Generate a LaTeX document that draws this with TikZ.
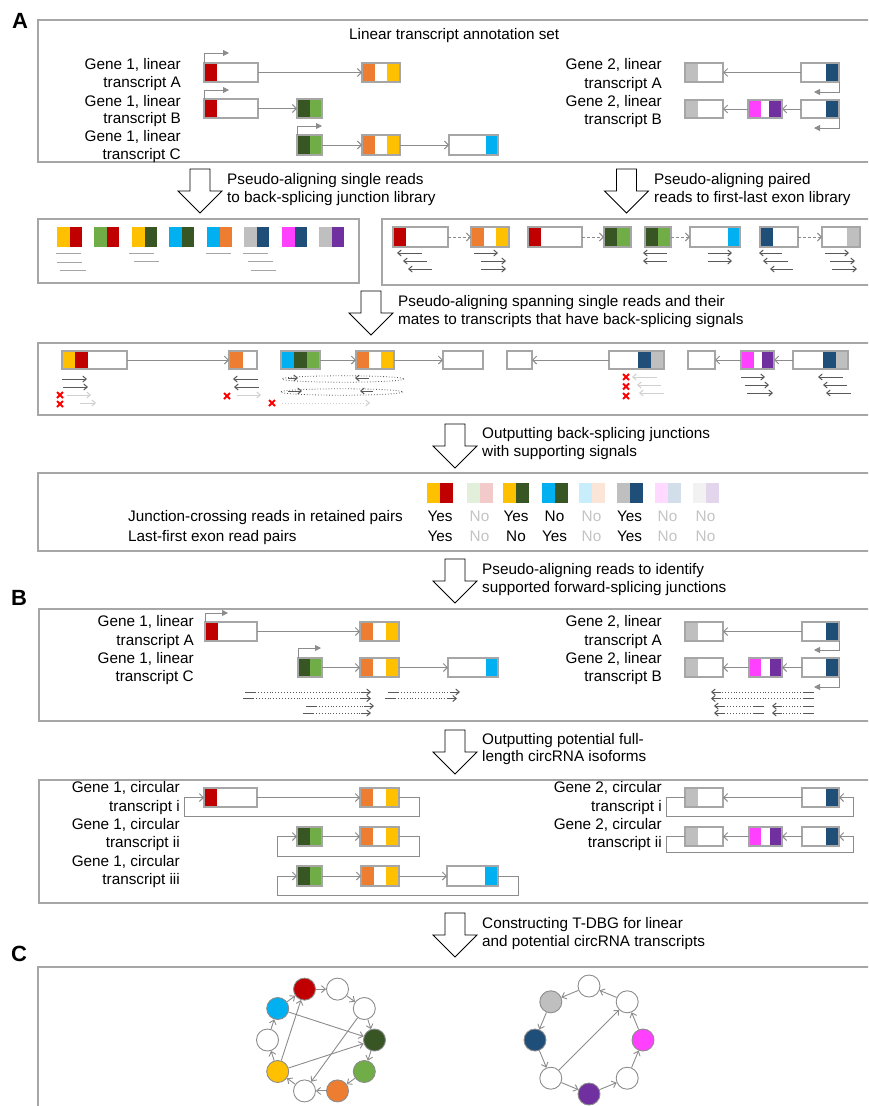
\documentclass[tikz,border=0pt]{standalone}
\usepackage{fontspec}
\setmainfont{Liberation Sans}
\usetikzlibrary{arrows.meta}
\definecolor{cRed}{HTML}{C00000}
\definecolor{cOr}{HTML}{ED7D31}
\definecolor{cYe}{HTML}{FFC000}
\definecolor{cDG}{HTML}{375623}
\definecolor{cLG}{HTML}{70AD47}
\definecolor{cCy}{HTML}{00B0F0}
\definecolor{cGr}{HTML}{BFBFBF}
\definecolor{cNv}{HTML}{1F4E79}
\definecolor{cMg}{HTML}{FF40FF}
\definecolor{cPu}{HTML}{7030A0}
\definecolor{pLG}{HTML}{E2EFDA}
\definecolor{pRd}{HTML}{F2CACA}
\definecolor{pCy}{HTML}{C9EEFB}
\definecolor{pOr}{HTML}{FBE5D6}
\definecolor{pMg}{HTML}{FFD9FF}
\definecolor{pNv}{HTML}{D2DEEA}
\definecolor{pGr}{HTML}{F2F2F2}
\definecolor{pPu}{HTML}{E2D5EC}
\definecolor{frameg}{HTML}{A6A6A6}
\definecolor{exg}{HTML}{A6A6A6}
\definecolor{conng}{HTML}{8C8C8C}
\definecolor{readg}{HTML}{595959}
\definecolor{lreadg}{HTML}{D0D0D0}
\definecolor{fadeg}{HTML}{C4C4C4}
\newcommand\lf{\fontsize{15.3}{18}\selectfont}
\newcommand\FL[5]{\fill[#1] (#2,#4) rectangle (#3,#5);}
\newcommand\EX[5]{\node[exon,anchor=north west,minimum width={#3-#2},minimum height={#5-#4}] (#1) at (#2,#4) {};}
\newcommand\BIGARR[2]{\draw[big] (#1-10,#2) -- (#1+10,#2) -- (#1+10,#2+22) -- (#1+22,#2+22) -- (#1,#2+44) -- (#1-22,#2+22) -- (#1-10,#2+22) -- cycle;}
\newcommand\JP[4]{\fill[#3] (#1,#2) rectangle (#1+12.5,#2+20); \fill[#4] (#1+12.5,#2) rectangle (#1+25,#2+20);}
\newcommand\TP[4]{\fill[#3] (#1,#2) rectangle (#1+13,#2+20); \fill[#4] (#1+13,#2) rectangle (#1+26,#2+20);}
\newcommand\RD[3]{\draw[read] (#1,#3) -- (#2,#3);}
\newcommand\LRD[3]{\draw[lread] (#1,#3) -- (#2,#3);}
\newcommand\XM[2]{\draw[red,line width=1.8pt] (#1-3,#2-3) -- (#1+3,#2+3) (#1-3,#2+3) -- (#1+3,#2-3);}
\newcommand\SR[3]{\pgfmathsetmacro\sA{#1+10*sign(#2-#1)}\pgfmathsetmacro\sB{#2-10*sign(#2-#1)}%
  \draw[readg,line width=0.9pt] (#1,#3) -- (\sA,#3);
  \draw[readg,line width=0.9pt,dotted] (\sA,#3) -- (\sB,#3);
  \draw[read] (\sB,#3) -- (#2,#3);}
\tikzset{
  frame/.style={draw=frameg,line width=1.3pt},
  exon/.style={draw=exg,line width=1.1pt,inner sep=0,outer sep=0,rectangle},
  conn/.style={draw=conng,line width=0.9pt,-{Straight Barb[length=4pt,width=8pt]}},
  dconn/.style={conn,dash pattern=on 3pt off 2pt},
  read/.style={draw=readg,line width=1pt,-{Straight Barb[length=3.5pt,width=6pt]}},
  lread/.style={read,draw=lreadg},
  prom/.style={draw=conng,line width=0.9pt,-{Triangle[length=6pt,width=6pt]}},
  lbl/.style={inner sep=0,anchor=base east,font=\lf},
  txt/.style={inner sep=0,anchor=base west,font=\lf},
  yn/.style={inner sep=0,anchor=base,font=\lf},
  fyn/.style={yn,text=fadeg},
  big/.style={draw=black,fill=white,line width=0.9pt},
  panel/.style={inner sep=0,anchor=base west,font=\fontsize{22}{24}\selectfont\bfseries},
  gnode/.style={circle,draw=conng,line width=0.9pt,minimum size=22pt,inner sep=0},
  gedge/.style={draw=conng,line width=0.9pt,-{Straight Barb[length=4pt,width=7pt]}}
}
\begin{document}
\begin{tikzpicture}[x=1pt,y=-1pt]
\useasboundingbox (0,0) rectangle (868,1106);
\clip (0,0) rectangle (868,1106);
\fill[white] (0,0) rectangle (868,1106);
% ================= Panel A =================
\node[panel] (pA) at (12,28.3) {A};
\draw[frame] (38,20) rectangle (872,162);
\node[txt] (title) at (349,39.3) {Linear transcript annotation set};
\node[lbl] (la1) at (181,69.3) {Gene 1, linear};
\node[lbl] (la2) at (181,87.3) {transcript A};
\node[lbl] (la3) at (181,106) {Gene 1, linear};
\node[lbl] (la4) at (181,123.5) {transcript B};
\node[lbl] (la5) at (181,141.7) {Gene 1, linear};
\node[lbl] (la6) at (181,159.3) {transcript C};
\node[lbl] (lb1) at (662,69.3) {Gene 2, linear};
\node[lbl] (lb2) at (662,88) {transcript A};
\node[lbl] (lb3) at (662,106) {Gene 2, linear};
\node[lbl] (lb4) at (662,124) {transcript B};
% gene 1 A
\FL{cRed}{204}{217}{63}{82}\EX{aA1}{204}{258}{63}{82}
\FL{cOr}{362}{375}{63}{82}\FL{cYe}{387}{400}{63}{82}\EX{aA2}{362}{400}{63}{82}
\draw[conn] (aA1) -- (aA2);
\draw[prom] (aA1.north west) -- ++(0,-10) -- ++(25,0);
% gene 1 B
\FL{cRed}{204}{217}{99}{118}\EX{aB1}{204}{258}{99}{118}
\FL{cDG}{297}{310}{99}{118}\FL{cLG}{310}{322}{99}{118}\EX{aB2}{297}{322}{99}{118}
\draw[conn] (aB1) -- (aB2);
\draw[prom] (aB1.north west) -- ++(0,-9) -- ++(25,0);
% gene 1 C
\FL{cDG}{297}{310}{135}{155}\FL{cLG}{310}{322}{135}{155}\EX{aC1}{297}{322}{135}{155}
\FL{cOr}{362}{375}{135}{155}\FL{cYe}{387}{400}{135}{155}\EX{aC2}{362}{400}{135}{155}
\FL{cCy}{486}{498}{135}{155}\EX{aC3}{449}{498}{135}{155}
\draw[conn] (aC1) -- (aC2);
\draw[conn] (aC2) -- (aC3);
\draw[prom] (aC1.north west) -- ++(0,-9) -- ++(25,0);
% gene 2 A
\FL{cGr}{685}{698}{63}{82}\EX{bA1}{685}{723}{63}{82}
\FL{cNv}{826}{839}{63}{82}\EX{bA2}{801}{839}{63}{82}
\draw[conn] (bA2) -- (bA1);
\draw[prom] (bA2.south east) -- ++(0,10) -- ++(-25,0);
% gene 2 B
\FL{cGr}{685}{698}{100}{118}\EX{bB1}{685}{723}{100}{118}
\FL{cMg}{748}{761}{100}{118}\FL{cPu}{769}{782}{100}{118}\EX{bB2}{748}{782}{100}{118}
\FL{cNv}{826}{839}{100}{118}\EX{bB3}{801}{839}{100}{118}
\draw[conn] (bB3) -- (bB2);
\draw[conn] (bB2) -- (bB1);
\draw[prom] (bB3.south east) -- ++(0,10) -- ++(-25,0);
% ================= Row 2 =================
\BIGARR{200}{169}
\BIGARR{626.5}{169}
\node[txt] (t1a) at (227,184) {Pseudo-aligning single reads};
\node[txt] (t1b) at (227,202.5) {to back-splicing junction library};
\node[txt] (t2a) at (654,184) {Pseudo-aligning paired};
\node[txt] (t2b) at (654,202.5) {reads to first-last exon library};
\draw[frame] (38,219) rectangle (359,283);
\JP{57}{227}{cYe}{cRed}
\JP{94}{227}{cLG}{cRed}
\JP{132}{227}{cYe}{cDG}
\JP{169}{227}{cCy}{cDG}
\JP{207}{227}{cCy}{cOr}
\JP{244}{227}{cGr}{cNv}
\JP{282}{227}{cMg}{cNv}
\JP{319}{227}{cGr}{cPu}
\begin{scope}[draw=frameg,line width=1pt]
\draw (56,253) -- (81,253); \draw (57,262) -- (82,262); \draw (60,270) -- (86,270);
\draw (129,253) -- (154,253); \draw (134,261) -- (159,261);
\draw (206,253) -- (231,253);
\draw (243,253) -- (268,253); \draw (248,261) -- (273,261); \draw (251,270) -- (276,270);
\end{scope}
\draw[frame] (382,219) rectangle (872,285);
\FL{cRed}{393}{406}{227}{247}\EX{r1a}{393}{448}{227}{247}
\FL{cOr}{471}{484}{227}{247}\FL{cYe}{496}{509}{227}{247}\EX{r1b}{471}{509}{227}{247}
\draw[dconn] (r1a) -- (r1b);
\FL{cRed}{528}{541}{227}{247}\EX{r2a}{528}{582}{227}{247}
\FL{cDG}{604}{617}{227}{247}\FL{cLG}{617}{631}{227}{247}\EX{r2b}{604}{631}{227}{247}
\draw[dconn] (r2a) -- (r2b);
\FL{cDG}{645}{658}{227}{247}\FL{cLG}{658}{671}{227}{247}\EX{r3a}{645}{671}{227}{247}
\FL{cCy}{728}{740}{227}{247}\EX{r3b}{690}{740}{227}{247}
\draw[dconn] (r3a) -- (r3b);
\FL{cNv}{760}{773}{227}{247}\EX{r4a}{760}{798}{227}{247}
\FL{cGr}{847}{860}{227}{247}\EX{r4b}{822}{860}{227}{247}
\draw[dconn] (r4a) -- (r4b);
\RD{422}{397}{253}\RD{427}{403}{261}\RD{432}{408}{269}
\RD{474}{498}{253}\RD{481}{506}{261}\RD{481}{506}{269}
\RD{667}{643}{253}\RD{667}{643}{261}
\RD{708}{732}{253}\RD{708}{732}{261}
\RD{782}{759}{253}\RD{788}{763}{261}\RD{793}{770}{269}
\RD{825}{849}{253}\RD{830}{855}{261}\RD{832}{857}{269}
% ================= Row 3 =================
\BIGARR{371}{291}
\node[txt] (t3a) at (398,306.7) {Pseudo-aligning spanning single reads and their};
\node[txt] (t3b) at (398,324.3) {mates to transcripts that have back-splicing signals};
\draw[frame] (38,343) rectangle (872,415);
\FL{cYe}{62}{75}{351}{369}\FL{cRed}{75}{88}{351}{369}\EX{s1a}{62}{127}{351}{369}
\FL{cOr}{229}{243}{351}{369}\EX{s1b}{229}{257}{351}{369}
\draw[conn] (s1a) -- (s1b);
\RD{62}{87}{379}\RD{63}{88}{387}
\LRD{67}{91}{395}\XM{60}{395}
\LRD{80}{96}{403}\XM{60}{404}
\RD{258}{233}{379}\RD{259}{234}{387}
\LRD{237}{261}{395}\XM{227}{396}
\FL{cCy}{281}{294}{351}{369}\FL{cDG}{294}{307}{351}{369}\FL{cLG}{307}{320}{351}{369}\EX{s2a}{281}{320}{351}{369}
\FL{cOr}{356}{369}{351}{369}\FL{cYe}{381}{394}{351}{369}\EX{s2b}{356}{394}{351}{369}
\EX{s2c}{443}{483}{351}{369}
\draw[conn] (s2a) -- (s2b);
\draw[conn] (s2b) -- (s2c);
\draw[readg,line width=0.8pt,dotted] (343,379) ellipse (61 and 3.2);
\draw[readg,line width=0.8pt,dotted] (341.5,392) ellipse (61 and 3.2);
\RD{288}{298}{378}\RD{369}{355}{378}
\RD{288}{302}{391}\RD{373}{360}{391}
\XM{272}{403}
\draw[lread,dotted] (282,403) -- (370,403);
\EX{s3a}{507}{532}{351}{369}
\FL{cNv}{638}{651}{351}{369}\FL{cGr}{651}{664}{351}{369}\EX{s3b}{609}{664}{351}{369}
\draw[conn] (s3b) -- (s3a);
\XM{626}{377}\XM{626}{386.5}\XM{626}{396}
\LRD{657}{632}{377}\LRD{661}{637}{385}\LRD{664}{639}{393}
\EX{s4a}{688}{715}{351}{369}
\FL{cMg}{741}{754}{351}{369}\FL{cPu}{762}{774}{351}{369}\EX{s4b}{741}{774}{351}{369}
\FL{cNv}{823}{836}{351}{369}\FL{cGr}{836}{848}{351}{369}\EX{s4c}{793}{848}{351}{369}
\draw[conn] (s4c) -- (s4b);
\draw[conn] (s4b) -- (s4a);
\RD{741}{765}{377}\RD{745}{769}{385}\RD{747}{773}{393}
\RD{843}{818}{377}\RD{847}{823}{385}\RD{851}{826}{393}
% ================= Table =================
\BIGARR{455}{424}
\node[txt] (t4a) at (482,438.5) {Outputting back-splicing junctions};
\node[txt] (t4b) at (482,456.5) {with supporting signals};
\draw[frame] (38,473) rectangle (872,551);
\TP{427}{483}{cYe}{cRed}
\TP{466.5}{483}{pLG}{pRd}
\TP{503}{483}{cYe}{cDG}
\TP{541.5}{483}{cCy}{cDG}
\TP{578.5}{483}{pCy}{pOr}
\TP{616.5}{483}{cGr}{cNv}
\TP{654.5}{483}{pMg}{pNv}
\TP{692.5}{483}{pGr}{pPu}
\node[txt] (jr) at (128,521.7) {Junction-crossing reads in retained pairs};
\node[txt] (lf) at (128,541) {Last-first exon read pairs};
\node[yn] (y11) at (440,521.7) {Yes};
\node[fyn] (y12) at (479.5,521.7) {No};
\node[yn] (y13) at (516,521.7) {Yes};
\node[yn] (y14) at (554.5,521.7) {No};
\node[fyn] (y15) at (591.5,521.7) {No};
\node[yn] (y16) at (629.5,521.7) {Yes};
\node[fyn] (y17) at (667.5,521.7) {No};
\node[fyn] (y18) at (705.5,521.7) {No};
\node[yn] (y21) at (440,541) {Yes};
\node[fyn] (y22) at (479.5,541) {No};
\node[yn] (y23) at (516,541) {No};
\node[yn] (y24) at (554.5,541) {Yes};
\node[fyn] (y25) at (591.5,541) {No};
\node[yn] (y26) at (629.5,541) {Yes};
\node[fyn] (y27) at (667.5,541) {No};
\node[fyn] (y28) at (705.5,541) {No};
% ================= Panel B =================
\BIGARR{455}{559}
\node[txt] (t5a) at (482,574) {Pseudo-aligning reads to identify};
\node[txt] (t5b) at (482,592.3) {supported forward-splicing junctions};
\node[panel] (pB) at (11,605) {B};
\draw[frame] (39,609) rectangle (872,721);
\node[lbl] (lc1) at (194,626.7) {Gene 1, linear};
\node[lbl] (lc2) at (194,645) {transcript A};
\node[lbl] (lc3) at (194,663.3) {Gene 1, linear};
\node[lbl] (lc4) at (194,681.7) {transcript C};
\node[lbl] (ld1) at (662,626.7) {Gene 2, linear};
\node[lbl] (ld2) at (662,645) {transcript A};
\node[lbl] (ld3) at (662,663.3) {Gene 2, linear};
\node[lbl] (ld4) at (662,681.7) {transcript B};
\FL{cRed}{205}{218}{622}{641}\EX{BA1}{205}{257}{622}{641}
\FL{cOr}{360}{373}{622}{641}\FL{cYe}{386}{399}{622}{641}\EX{BA2}{360}{399}{622}{641}
\draw[conn] (BA1) -- (BA2);
\draw[prom] (BA1.north west) -- ++(0,-9) -- ++(23,0);
\FL{cDG}{298}{310}{658}{677}\FL{cLG}{310}{322}{658}{677}\EX{BC1}{298}{322}{658}{677}
\FL{cOr}{360}{373}{658}{677}\FL{cYe}{386}{399}{658}{677}\EX{BC2}{360}{399}{658}{677}
\FL{cCy}{486}{498}{658}{677}\EX{BC3}{448}{498}{658}{677}
\draw[conn] (BC1) -- (BC2);
\draw[conn] (BC2) -- (BC3);
\draw[prom] (BC1.north west) -- ++(0,-10) -- ++(23,0);
\FL{cGr}{685}{698}{622}{641}\EX{GA1}{685}{723}{622}{641}
\FL{cNv}{826}{839}{622}{641}\EX{GA2}{802}{839}{622}{641}
\draw[conn] (GA2) -- (GA1);
\draw[prom] (GA2.south east) -- ++(0,9) -- ++(-25,0);
\FL{cGr}{685}{698}{658}{677}\EX{GB1}{685}{723}{658}{677}
\FL{cMg}{749}{761}{658}{677}\FL{cPu}{770}{782}{658}{677}\EX{GB2}{749}{782}{658}{677}
\FL{cNv}{826}{839}{658}{677}\EX{GB3}{802}{839}{658}{677}
\draw[conn] (GB3) -- (GB2);
\draw[conn] (GB2) -- (GB1);
\draw[prom] (GB3.south east) -- ++(0,10) -- ++(-25,0);
\SR{245}{371}{692}\SR{388}{460}{692}
\SR{243}{371}{698.5}\SR{385}{457}{698.5}
\SR{306}{374}{706}
\SR{303}{371}{713}
\SR{814}{711}{692}
\SR{814}{711}{698.5}
\SR{764}{714}{706}\SR{814}{772}{706}
\SR{764}{714}{713}\SR{814}{772}{713}
% ================= Circular =================
\BIGARR{455}{730}
\node[txt] (t6a) at (482,744.3) {Outputting potential full-};
\node[txt] (t6b) at (482,761.7) {length circRNA isoforms};
\draw[frame] (39,780) rectangle (872,903);
\node[lbl] (le1) at (180,792.7) {Gene 1, circular};
\node[lbl] (le2) at (180,811) {transcript i};
\node[lbl] (le3) at (180,829.3) {Gene 1, circular};
\node[lbl] (le4) at (180,847.7) {transcript ii};
\node[lbl] (le5) at (180,866) {Gene 1, circular};
\node[lbl] (le6) at (180,884.3) {transcript iii};
\node[lbl] (lf1) at (662,792.7) {Gene 2, circular};
\node[lbl] (lf2) at (662,811) {transcript i};
\node[lbl] (lf3) at (662,829.3) {Gene 2, circular};
\node[lbl] (lf4) at (662,847.7) {transcript ii};
\FL{cRed}{204}{217}{788}{807}\EX{Ci1}{204}{257}{788}{807}
\FL{cOr}{360}{373}{788}{807}\FL{cYe}{386}{399}{788}{807}\EX{Ci2}{360}{399}{788}{807}
\draw[conn] (Ci1) -- (Ci2);
\draw[conn] (Ci2.east) -| (419,816) -| (184,797.5) -- (Ci1.west);
\FL{cDG}{297}{310}{827}{846}\FL{cLG}{310}{322}{827}{846}\EX{Cii1}{297}{322}{827}{846}
\FL{cOr}{360}{373}{827}{846}\FL{cYe}{386}{399}{827}{846}\EX{Cii2}{360}{399}{827}{846}
\draw[conn] (Cii1) -- (Cii2);
\draw[conn] (Cii2.east) -| (419,856) -| (277,836.5) -- (Cii1.west);
\FL{cDG}{297}{310}{866}{886}\FL{cLG}{310}{322}{866}{886}\EX{Ciii1}{297}{322}{866}{886}
\FL{cOr}{361}{374}{866}{886}\FL{cYe}{386}{399}{866}{886}\EX{Ciii2}{361}{399}{866}{886}
\FL{cCy}{485}{498}{866}{886}\EX{Ciii3}{447}{498}{866}{886}
\draw[conn] (Ciii1) -- (Ciii2);
\draw[conn] (Ciii2) -- (Ciii3);
\draw[conn] (Ciii3.east) -| (518,895) -| (277,876) -- (Ciii1.west);
\FL{cGr}{685}{698}{788}{807}\EX{Di1}{685}{723}{788}{807}
\FL{cNv}{826}{839}{788}{807}\EX{Di2}{802}{839}{788}{807}
\draw[conn] (Di2) -- (Di1);
\draw[conn] (Di1.west) -| (666,816) -| (853,797.5) -- (Di2.east);
\FL{cGr}{685}{698}{827}{846}\EX{Dii1}{685}{723}{827}{846}
\FL{cMg}{749}{761}{827}{846}\FL{cPu}{770}{782}{827}{846}\EX{Dii2}{749}{782}{827}{846}
\FL{cNv}{826}{839}{827}{846}\EX{Dii3}{802}{839}{827}{846}
\draw[conn] (Dii3) -- (Dii2);
\draw[conn] (Dii2) -- (Dii1);
\draw[conn] (Dii1.west) -| (666,852) -| (853,836.5) -- (Dii3.east);
% ================= Panel C =================
\BIGARR{455}{913}
\node[txt] (t7a) at (482,928.3) {Constructing T-DBG for linear};
\node[txt] (t7b) at (482,946) {and potential circRNA transcripts};
\node[panel] (pC) at (11,961) {C};
\draw[frame] (38,967) rectangle (872,1130);
\node[gnode,fill=cRed] (g1) at (304.5,989.1) {};
\node[gnode,fill=white] (g2) at (337.5,989.1) {};
\node[gnode,fill=white] (g3) at (364.3,1008.5) {};
\node[gnode,fill=cDG] (g4) at (374.5,1040) {};
\node[gnode,fill=cLG] (g5) at (364.3,1071.5) {};
\node[gnode,fill=cOr] (g6) at (337.5,1090.9) {};
\node[gnode,fill=white] (g7) at (304.5,1090.9) {};
\node[gnode,fill=cYe] (g8) at (277.7,1071.5) {};
\node[gnode,fill=white] (g9) at (267.5,1040) {};
\node[gnode,fill=cCy] (g10) at (277.7,1008.5) {};
\draw[gedge] (g1) -- (g2);
\draw[gedge] (g2) -- (g3);
\draw[gedge] (g3) -- (g4);
\draw[gedge] (g4) -- (g5);
\draw[gedge] (g5) -- (g6);
\draw[gedge] (g6) -- (g7);
\draw[gedge] (g7) -- (g8);
\draw[gedge] (g8) -- (g9);
\draw[gedge] (g9) -- (g10);
\draw[gedge] (g10) -- (g1);
\draw[gedge] (g10) -- (g4);
\draw[gedge] (g8) -- (g1);
\draw[gedge] (g8) -- (g4);
\draw[gedge] (g3) -- (g7);
\node[gnode,fill=white] (h1) at (589,986) {};
\node[gnode,fill=cGr] (h2) at (550.8,1001.8) {};
\node[gnode,fill=cNv] (h3) at (535,1040) {};
\node[gnode,fill=white] (h4) at (550.8,1078.2) {};
\node[gnode,fill=cPu] (h5) at (589,1094) {};
\node[gnode,fill=white] (h6) at (627.2,1078.2) {};
\node[gnode,fill=cMg] (h7) at (643,1040) {};
\node[gnode,fill=white] (h8) at (627.2,1001.8) {};
\draw[gedge] (h1) -- (h2);
\draw[gedge] (h2) -- (h3);
\draw[gedge] (h3) -- (h4);
\draw[gedge] (h4) -- (h5);
\draw[gedge] (h5) -- (h6);
\draw[gedge] (h6) -- (h7);
\draw[gedge] (h7) -- (h8);
\draw[gedge] (h8) -- (h1);
\draw[gedge] (h4) -- (h8);
\end{tikzpicture}
\end{document}
